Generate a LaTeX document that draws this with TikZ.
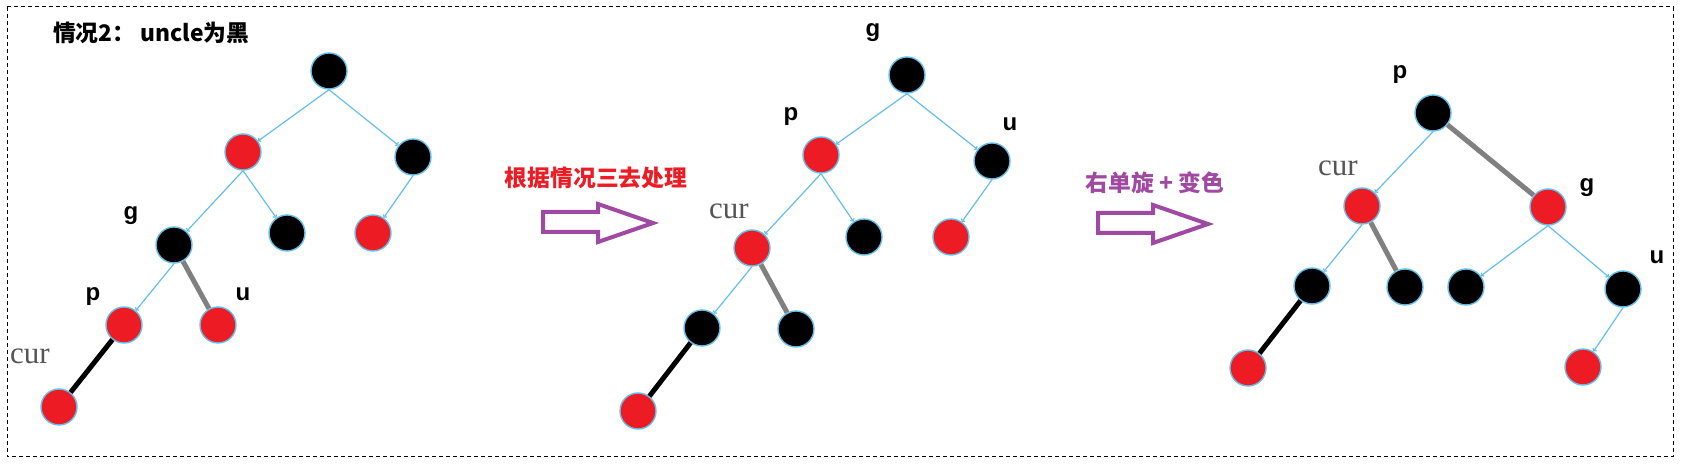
\documentclass[tikz,border=0pt]{standalone}
\usepackage{fontspec}
\setmainfont{Liberation Sans}
\newfontfamily\cjk{Noto Sans CJK SC}
\newfontfamily\curfont{Liberation Serif}
\usetikzlibrary{arrows.meta}
\definecolor{nodered}{RGB}{237,28,36}
\definecolor{linkblue}{RGB}{100,190,235}
\definecolor{arrpurple}{RGB}{160,73,163}
\definecolor{curgray}{RGB}{85,85,85}
\tikzset{
  rbnode/.style={circle,draw=linkblue,line width=0.7pt,inner sep=0pt,minimum size=18pt},
  rednd/.style={rbnode,fill=nodered},
  blknd/.style={rbnode,fill=black},
  lbl/.style={font=\bfseries\fontsize{12}{14}\selectfont},
  curlbl/.style={font=\curfont\fontsize{15.5}{17}\selectfont,text=curgray},
  cjktext/.style={font=\cjk\bfseries\fontsize{11.4}{13}\selectfont},
  bluelink/.style={draw=linkblue,line width=0.6pt,-{Straight Barb[length=0.8pt,width=2.2pt]}},
  graylink/.style={draw=gray,line width=2.5pt},
  blacklink/.style={draw=black,line width=2.5pt},
  hollowarr/.style={draw=arrpurple,line width=2pt,line join=miter}
}
\begin{document}
\begin{tikzpicture}[x=0.5pt,y=-0.5pt]
\useasboundingbox (0,0) rectangle (1686,469);
% frame
\draw[line width=0.5pt,dash pattern=on 2pt off 1.5pt] (7,7) rectangle (1673,457);
\node[cjktext,anchor=west] (title) at (46,33) {情况2： uncle为黑};
% before
\node[blknd] (aroot) at (329,71) {};
\node[rednd] (ared) at (243,152) {};
\node[blknd] (ablk) at (413,157) {};
\node[blknd] (ag) at (174,245) {};
\node[blknd] (ab) at (287,233) {};
\node[rednd] (ar) at (373,233) {};
\node[rednd] (ap) at (124,325) {};
\node[rednd] (au) at (218,325) {};
\node[rednd] (acur) at (59,407) {};
\draw[bluelink] (aroot.south) -- (ared);
\draw[bluelink] (aroot.south) -- (ablk);
\draw[bluelink] (ared.south) -- (ag);
\draw[bluelink] (ared.south) -- (ab);
\draw[bluelink] (ablk.south) -- (ar);
\draw[bluelink] (ag.south) -- (ap);
\draw[graylink] (ag) -- (au);
\draw[blacklink] (ap) -- (acur);
\node[lbl] (agl) at (131,216) {g};
\node[lbl] (apl) at (93,297) {p};
\node[lbl] (aul) at (243,294) {u};
\node[curlbl] (acurl) at (30,356) {cur};
% case three
\node[blknd] (bg) at (907,75) {};
\node[rednd] (bp) at (821,155) {};
\node[blknd] (bu) at (992,161) {};
\node[rednd] (bcur) at (752,248) {};
\node[blknd] (bb) at (864,237) {};
\node[rednd] (br) at (951,237) {};
\node[blknd] (bk) at (702,328) {};
\node[blknd] (bk2) at (796,329) {};
\node[rednd] (bred) at (638,411) {};
\draw[bluelink] (bg.south) -- (bp);
\draw[bluelink] (bg.south) -- (bu);
\draw[bluelink] (bp.south) -- (bcur);
\draw[bluelink] (bp.south) -- (bb);
\draw[bluelink] (bu.south) -- (br);
\draw[bluelink] (bcur.south) -- (bk);
\draw[graylink] (bcur) -- (bk2);
\draw[blacklink] (bk) -- (bred);
\node[lbl] (bgl) at (873,33) {g};
\node[lbl] (bpl) at (791,117) {p};
\node[lbl] (bul) at (1010,124) {u};
\node[curlbl] (bcurl) at (729,211) {cur};
% after rotation
\node[blknd] (cp) at (1433,113) {};
\node[rednd] (ccur) at (1362,206) {};
\node[rednd] (cg) at (1548,207) {};
\node[blknd] (ck) at (1312,286) {};
\node[blknd] (ck2) at (1405,287) {};
\node[blknd] (ck3) at (1466,287) {};
\node[blknd] (cu) at (1623,289) {};
\node[rednd] (cred) at (1248,368) {};
\node[rednd] (cred2) at (1583,367) {};
\draw[bluelink] (cp.south) -- (ccur);
\draw[graylink] (cp) -- (cg);
\draw[bluelink] (ccur.south) -- (ck);
\draw[graylink] (ccur) -- (ck2);
\draw[blacklink] (ck) -- (cred);
\draw[bluelink] (cg.south) -- (ck3);
\draw[bluelink] (cg.south) -- (cu);
\draw[bluelink] (cu.south) -- (cred2);
\node[lbl] (cpl) at (1400,75) {p};
\node[curlbl] (ccurl) at (1338,168) {cur};
\node[lbl] (cgl) at (1587,188) {g};
\node[lbl] (cul) at (1657,257) {u};
% arrows
\node[cjktext,text=nodered] (step1) at (596,178) {根据情况三去处理};
\node[cjktext,text=arrpurple] (step2) at (1155,183) {右单旋 + 变色};
\foreach \dx/\dy in {0/0,555/1}
  \draw[hollowarr,shift={(\dx,\dy)}] (543,212) -- (598,212) -- (598,204) -- (653,223)
        -- (598,242) -- (598,232) -- (543,232) -- cycle;
\end{tikzpicture}
\end{document}
